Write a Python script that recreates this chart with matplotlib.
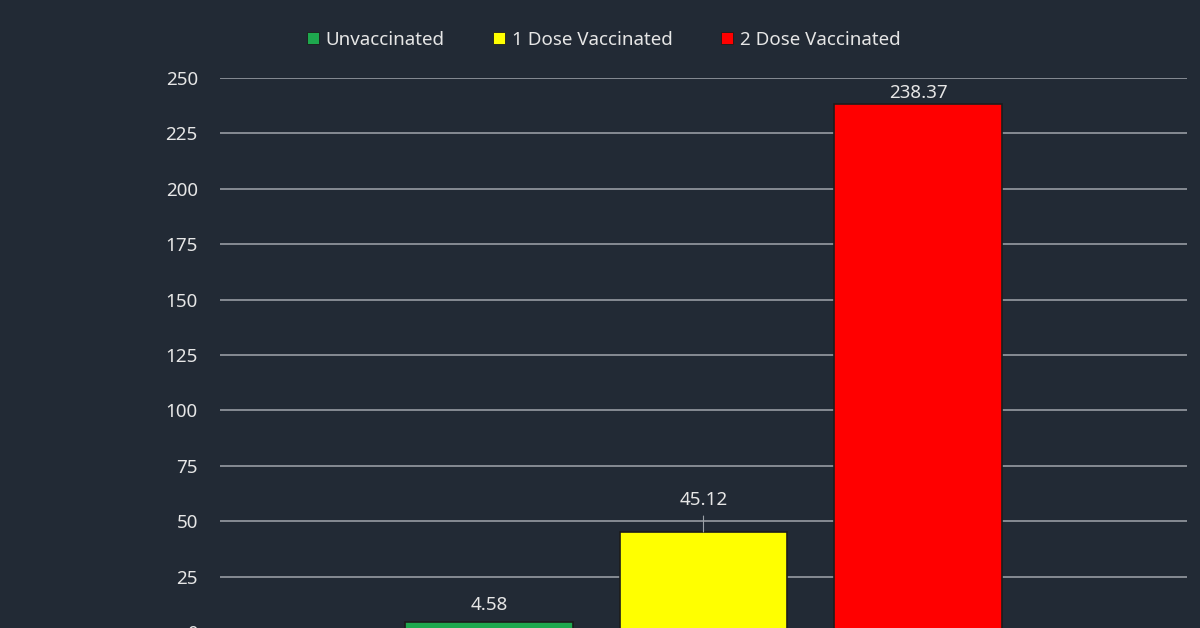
import matplotlib
matplotlib.use("Agg")
import matplotlib.pyplot as plt
from matplotlib.lines import Line2D

categories = ["Unvaccinated", "1 Dose Vaccinated", "2 Dose Vaccinated"]
values = [4.58, 45.12, 238.37]
colors = ["#1ea84e", "#ffff00", "#ff0000"]
labels = ["4.58", "45.12", "238.37"]
yticks = [0, 25, 50, 75, 100, 125, 150, 175, 200, 225, 250]

bg = "#222a35"
txt = "#e6e6e6"
plt.rcParams['font.family'] = ['Noto Sans', 'DejaVu Sans']

fig = plt.figure(figsize=(12, 6.28), dpi=100, facecolor=bg)
ax = fig.add_axes([220/1200, (628-632)/628, (1187-220)/1200, (632-78)/628])
ax.set_facecolor(bg)

xs = list(range(len(values)))
bars = ax.bar(xs, values, width=0.783, color=colors, edgecolor="#1c1c1c", linewidth=1.2, zorder=3)

ax.set_xlim(-1.254, 3.254)
ax.set_ylim(0, 250)
ax.set_yticks(yticks)
ax.set_yticklabels([str(t) for t in yticks])
ax.tick_params(axis='y', colors=txt, labelsize=13.5, length=0, pad=16)
ax.set_xticks([])
for s in ax.spines.values():
    s.set_visible(False)
ax.grid(axis='y', color="#8e939a", linewidth=1.3, zorder=0)

# data labels
offsets = [17, 32, 11]
for x, v, lab, off in zip(xs, values, labels, offsets):
    ax.annotate(lab, xy=(x, v), xytext=(0, off * 0.72), textcoords='offset points',
                ha='center', va='center', color=txt, fontsize=13.5, zorder=4)
# leader line for the 45.12 label
ax.annotate("", xy=(1, values[1]), xytext=(0, 16 * 0.72), textcoords='offset points',
            arrowprops=dict(arrowstyle='-', color="#9aa0a6", lw=0.8, shrinkA=0, shrinkB=0))

handles = [Line2D([0], [0], marker='s', linestyle='None', markersize=8,
                  markerfacecolor=c, markeredgecolor="#1c1c1c", markeredgewidth=0.6)
           for c in colors]
leg = fig.legend(handles, categories, loc='center', bbox_to_anchor=(604/1200, 1 - 40/628),
                 ncol=3, frameon=False, fontsize=13.5, labelcolor=txt,
                 handlelength=0.6, handletextpad=0.4, columnspacing=2.6)

fig.savefig("out.png", dpi=100, facecolor=bg)
